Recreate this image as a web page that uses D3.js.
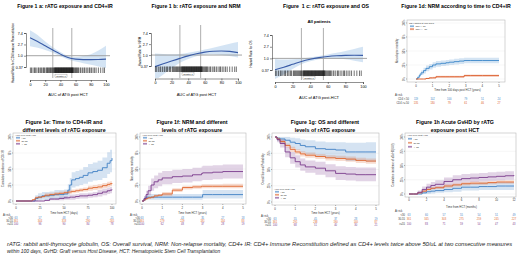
<!DOCTYPE html>
<html><head><meta charset="utf-8">
<script src="https://cdn.jsdelivr.net/npm/d3@7"></script>
<style>body{margin:0;background:#fff}svg{display:block}</style>
</head><body>
<svg id="c" width="520" height="262"></svg>
<script>
// ================= DATA =================
const titlesTop = ["Figure 1 a: rATG exposure and CD4+IR","Figure 1 b: rATG exposure and NRM","Figure  1 c: rATG exposure and OS","Figure 1d: NRM according to time to CD4+IR"];
const titlesBottom = [["Figure 1e: Time to CD4+IR and","different levels of rATG exposure"],["Figure 1f: NRM and different","levels of rATG exposure"],["Figure 1g: OS and different","levels of rATG exposure"],["Figure 1h Acute GvHD by rATG","exposure post HCT"]];

// Panels a-c : spline hazard ratios vs AUC of ATG post HCT
const aucGrid = [0,10,20,30,40,50,60,70,80,90,100];
const aucTicks = [0,20,40,60,80,100];
const hrTicks = [0.37,1.0,2.7,7.4];
const quartileCuts = [30,55];
const hrCD4   = [4.9,3.5,2.4,1.65,1.15,0.85,0.74,0.71,0.71,0.72,0.74];
const hrCD4Lo = [2.3,2.0,1.65,1.3,0.95,0.72,0.6,0.52,0.45,0.39,0.34];
const hrCD4Hi = [9.5,6.2,3.5,2.1,1.4,1.0,0.9,0.98,1.15,1.6,2.4];
const hrNRM   = [0.35,0.45,0.58,0.74,0.93,1.12,1.3,1.42,1.45,1.4,1.25];
const hrNRMLo = [0.1,0.17,0.3,0.5,0.7,0.9,1.02,1.05,1.0,0.92,0.8];
const hrNRMHi = [1.15,1.1,1.08,1.1,1.23,1.4,1.65,1.95,2.3,2.8,3.3];
const hrOS    = [0.38,0.47,0.6,0.77,0.93,1.07,1.18,1.25,1.29,1.3,1.29];
const hrOSLo  = [0.17,0.25,0.4,0.6,0.78,0.93,1.0,0.98,0.92,0.82,0.72];
const hrOSHi  = [0.95,0.9,0.92,0.98,1.1,1.23,1.4,1.62,1.9,2.25,2.7];
const rugAUC = [0.5,2,4,6,7,9,11,12,14,15,17,18,19,21,22,23,24,25,26,27,28,29,30,31,32,32.5,33,33.5,34,34.5,35,35.5,36,36.5,37,37.5,38,38.5,39,39.5,40,40.5,41,41.5,42,42.5,43,43.5,44,44.5,45,45.5,46,46.5,47,47.5,48,48.5,49,49.5,50,50.5,51,51.5,52,52.5,53,53.5,54,54.5,55,55.5,56,56.5,57,58,59,60,61,62,63,64,66,67,69,71,72,74,76,78,79,81,83,85,87,90,93,96,98];

// Panel d : NRM by CD4 status (years from day 100)
const dTimes = [0,0.1,0.2,0.3,0.45,0.6,0.8,1.0,1.2,1.5,1.8,2.0,2.3,2.6,2.9,3.3,4.0,5.0];
const dLow   = [0,3,7,11,15,19,22,25,27,28,29,30,31,32,33,33,33,33];
const dLowLo = [0,1,4,7,10,14,17,20,22,23,24,25,26,27,28,28,28,28];
const dLowHi = [0,5,10,15,20,24,27,30,32,33,34,35,36,37,38,38,38,38];
const dHigh  = [0,0,0,0,0,1,2,2,4,4,4,4,4,4,6,6,6,6];
const dHighLo= [0,0,0,0,0,0,0,1,2,2,2,2,2,2,4,4,4,4];
const dHighHi= [0,0,0,0,0,2,3,4,6,6,6,6,6,6,8,8,8,8];
const dRiskTimes = [0,1,2,3,4,5];
const dRiskLow  = [119,102,100,79,51,24];
const dRiskHigh = [135,130,79,61,46,27];

// Panel e : time to CD4 IR (days) by rATG level
const eTimes   = [0,17,20,23,27,30,35,40,45,50,54,56,58,62,66,70,75,80,85,90,95,98,100];
const eLt30    = [0,0,4,6,8,8,9,10,10,11,17,25,33,35,37,40,44,46,48,52,59,63,67];
const eLt30Lo  = [0,0,0,1,2,2,3,3,3,4,8,14,21,23,25,27,30,32,33,36,42,45,50];
const eLt30Hi  = [0,0,9,12,14,14,15,17,17,18,26,36,45,47,49,53,58,60,63,68,76,80,84];
const eMid     = [0,2,5,6,7,9,10,11,12,13,14,14,15,16,17,18,20,21,22,24,26,27,28];
const eMidLo   = [0,1,3,4,5,6,7,8,9,10,11,11,12,13,14,15,16,17,18,20,22,23,24];
const eMidHi   = [0,3,7,8,9,12,13,14,15,16,17,17,18,19,20,21,24,25,26,28,30,31,32];
const eGe55    = [0,0,0,0,0,1,3,3,4,5,5,6,6,7,8,8,9,10,12,14,16,17,18];
const eGe55Lo  = [0,0,0,0,0,0,1,1,1,2,2,2,2,3,4,4,5,6,7,9,11,12,13];
const eGe55Hi  = [0,0,0,0,0,2,5,5,7,8,8,10,10,11,12,12,13,14,17,19,21,22,23];
const eRiskTimes = [0,25,50,75,100];
const eRisk = [[63,57,48,37,25],[361,344,318,290,265],[100,96,90,84,78]];

// Panel f : NRM (years) by rATG level
const fTimes   = [0,0.1,0.2,0.3,0.45,0.6,0.8,1.0,1.5,2.0,2.5,2.95,3.0,3.5,4.0,5.0];
const fLt30    = [0,3,6,6,6,6,6,6,6,6,6,6,10,10,10,10];
const fLt30Lo  = [0,0,2,2,2,2,2,2,2,2,2,2,4,4,4,4];
const fLt30Hi  = [0,7,11,11,11,11,11,11,11,11,11,11,17,17,17,17];
const fMid     = [0,2,4,5,6,8,9,11,17,21,22,23,23,23,23,23];
const fMidLo   = [0,1,2,3,4,6,7,8,14,18,19,20,20,20,20,20];
const fMidHi   = [0,3,6,7,8,10,11,14,20,24,25,26,26,26,27,27];
const fGe55    = [0,4,10,16,25,30,33,36,38,39,41,43,44,45,46,46];
const fGe55Lo  = [0,1,5,9,16,20,23,26,28,29,31,32,33,34,35,35];
const fGe55Hi  = [0,8,16,24,35,40,44,47,49,50,52,54,55,56,57,57];
const fRiskTimes = [0,1,2,3,4,5];
const fRisk = [[63,52,43,35,27,18],[361,279,229,181,134,83],[100,62,48,37,28,19]];

// Panel g : OS (years) by rATG level
const gTimes   = [0,0.1,0.25,0.5,0.75,1.0,1.25,1.5,2.0,2.5,3.0,3.5,4.0,4.5,5.0];
const gLt30    = [100,98,97,95,92,90,87,85,82,81,80,77,77,77,77];
const gLt30Lo  = [100,94,91,87,83,80,76,73,70,68,67,63,63,62,62];
const gLt30Hi  = [100,100,100,100,99,98,96,95,93,92,92,91,91,92,93];
const gMid     = [100,97,93,87,81,77,74,72,70,68,67,66,64,63,63];
const gMidLo   = [100,95,90,84,77,73,70,68,66,64,63,62,60,59,58];
const gMidHi   = [100,99,96,90,85,81,78,76,74,72,71,70,68,67,67];
const gGe55    = [100,96,90,77,68,62,57,54,52,48,44,43,42,42,42];
const gGe55Lo  = [100,92,84,69,59,53,48,45,42,38,34,33,32,32,32];
const gGe55Hi  = [100,99,96,85,77,72,67,64,62,58,55,54,53,53,53];
const gRiskTimes = [0,1,2,3,4,5];
const gRisk = [[63,55,45,37,28,19],[361,291,238,190,140,87],[100,68,51,40,30,21]];

// Panel h : acute GvHD (months) by rATG level
const hTimes   = [0,0.5,1,1.5,2,2.5,3,4,5,6,7,8,9,10,11,12];
const hLt30    = [0,0,0,2,4,5,6,8,10,12,12,13,13,14,14,14];
const hLt30Lo  = [0,0,0,0,0,1,2,3,4,6,6,7,7,7,7,7];
const hLt30Hi  = [0,0,0,5,9,11,12,15,17,19,19,20,20,21,21,21];
const hMid     = [0,0,2,5,8,10,11,14,16,18,19,19,20,21,21,21];
const hMidLo   = [0,0,1,3,6,8,9,11,13,15,16,16,17,18,18,18];
const hMidHi   = [0,0,3,7,10,12,14,17,19,21,22,22,23,24,24,24];
const hGe55    = [0,0,3,8,12,15,17,22,25,27,28,29,30,31,32,33];
const hGe55Lo  = [0,0,1,4,7,9,11,15,18,20,21,22,23,24,25,25];
const hGe55Hi  = [0,0,6,13,18,21,24,29,33,35,36,37,38,39,40,41];
const hRiskTimes = [0,2,4,6,8,10,12];
const hRisk = [[63,60,57,55,54,51,49],[361,345,303,275,259,245,227],[100,83,71,59,54,47,43]];

const groupLabels = ["<30","30-55",">=55"];
const pctTicks = [0,25,50,75,100];
const footnote = ["rATG: rabbit anti-thymocyte globulin, OS: Overall survival, NRM: Non-relapse mortality, CD4+ IR: CD4+ Immune Reconstitution defined as CD4+ levels twice above 50/uL at two consecutive measures","within 100 days, GvHD: Graft versus Host Disease, HCT: Hematopoietic Stem Cell Transplantation"];

// ================= DRAW =================
const FONT = '"Liberation Sans", Arial, Helvetica, sans-serif';
const COLS = ["#3f80c4","#e0652c","#7a3b8c"];
const svg = d3.select("#c").attr("font-family", FONT);
svg.append("rect").attr("width",520).attr("height",262).attr("fill","#fff");

function txt(g,x,y,s,size,o={}){
  return g.append("text").attr("x",x).attr("y",y).text(s)
    .attr("font-size",size).attr("fill",o.fill||"#000")
    .attr("font-weight",o.bold?"bold":null).attr("font-style",o.italic?"italic":null)
    .attr("text-anchor",o.anchor||"start").style("white-space","pre")
    .attr("transform",o.rot?`rotate(${o.rot},${x},${y})`:null);
}

// titles
[65,196,326,456].forEach((cx,i)=>txt(svg,cx,8,titlesTop[i],5.2,{bold:true,anchor:"middle"}));
[64,192,325,455].forEach((cx,i)=>{
  txt(svg,cx,123.5,titlesBottom[i][0],5.3,{bold:true,anchor:"middle"});
  txt(svg,cx,131.5,titlesBottom[i][1],5.3,{bold:true,anchor:"middle"});
});

let clipN=0;
function clip(x0,y0,x1,y1){
  const id="cl"+(clipN++);
  svg.append("clipPath").attr("id",id).append("rect").attr("x",x0).attr("y",y0).attr("width",x1-x0).attr("height",y1-y0);
  return `url(#${id})`;
}
function styleAxis(g,fs){
  g.attr("font-family",FONT).attr("font-size",fs);
  g.selectAll("line").attr("stroke","#222").attr("stroke-width",0.5);
  g.selectAll("path").attr("stroke","#222").attr("stroke-width",0.5);
}

function hrPanel(p){
  const g=svg.append("g");
  const x=d3.scaleLinear().domain([0,100]).range([p.x0,p.x100]);
  const y=d3.scaleLog().domain([0.37,7.4]).range([p.y037,p.y74]);
  const cp=clip(p.box[0],p.box[1],p.box[2],p.box[3]);
  const pts=aucGrid.map((a,i)=>({a,e:p.est[i],l:p.lo[i],h:p.hi[i]}));
  g.append("path").attr("clip-path",cp).attr("fill","#cddff2").attr("fill-opacity",0.85)
    .attr("d",d3.area().x(d=>x(d.a)).y0(d=>y(d.l)).y1(d=>y(d.h)).curve(d3.curveMonotoneX)(pts));
  g.append("line").attr("x1",p.box[0]).attr("x2",p.box[2]).attr("y1",y(1)).attr("y2",y(1)).attr("stroke","#9a9a9a").attr("stroke-width",0.9);
  quartileCuts.forEach(q=>g.append("line").attr("x1",x(q)).attr("x2",x(q)).attr("y1",p.box[1]).attr("y2",p.box[3]).attr("stroke","#a5a5a5").attr("stroke-width",0.9));
  g.append("path").attr("clip-path",cp).attr("fill","none").attr("stroke","#3a5ca8").attr("stroke-width",1.1)
    .attr("d",d3.line().x(d=>x(d.a)).y(d=>y(d.e)).curve(d3.curveMonotoneX)(pts));
  g.selectAll(".rug").data(rugAUC).join("line").attr("x1",d=>x(d)).attr("x2",d=>x(d))
    .attr("y1",p.rug[0]).attr("y2",p.rug[1]).attr("stroke","#000").attr("stroke-width",0.55);
  // quartile label
  g.append("rect").attr("x",p.q[0]).attr("y",p.q[1]-2.4).attr("width",12).attr("height",3.2).attr("fill","#fff").attr("stroke","#666").attr("stroke-width",0.3);
  txt(g,p.q[0]+6,p.q[1],"Quartile 1",2.2,{anchor:"middle"});
  const ax=g.append("g").attr("transform",`translate(0,${p.axY})`)
    .call(d3.axisBottom(x).tickValues(aucTicks).tickSizeOuter(0).tickSize(2).tickPadding(1.2));
  styleAxis(ax,3.8);
  const ay=g.append("g").attr("transform",`translate(${p.axX},0)`)
    .call(d3.axisLeft(y).tickValues(hrTicks).tickFormat(d=>d===1?"1.0":String(d)).tickSizeOuter(0).tickSize(2).tickPadding(1.2));
  styleAxis(ay,3.6);
  txt(g,(p.x0+p.x100)/2,p.xt,p.xTitle,4,{anchor:"middle"});
  txt(g,p.yTx,(p.box[1]+p.box[3])/2,p.yTitle,3,{anchor:"middle",rot:-90});
  if(p.sub) txt(g,(p.x0+p.x100)/2,23,p.sub,4.3,{bold:true,anchor:"middle"});
}

hrPanel({x0:30,x100:106,y037:67,y74:33,box:[26,28,110,78],est:hrCD4,lo:hrCD4Lo,hi:hrCD4Hi,rug:[67.5,73],q:[55,76.5],axY:80,axX:26,xt:96,xTitle:"AUC of ATG post HCT",yTx:14,yTitle:"Hazard Ratio for CD4 Immune Reconstitution"});
hrPanel({x0:155,x100:238,y037:66,y74:33,box:[151,25,242,78],est:hrNRM,lo:hrNRMLo,hi:hrNRMHi,rug:[66.5,72],q:[182,74.5],axY:78.5,axX:151,xt:96,xTitle:"AUC of ATG post HCT",yTx:141,yTitle:"Hazard Ratio for NRM"});
hrPanel({x0:275,x100:363,y037:70,y74:35,box:[272,28,367,80],est:hrOS,lo:hrOSLo,hi:hrOSHi,rug:[70.5,76],q:[303,78.5],axY:82,axX:272,xt:99,xTitle:"AUC of ATG post-HCT",yTx:252,yTitle:"Hazard Ratio for OS",sub:"All patients"});

function kmPanel(p){
  const g=svg.append("g");
  const [l,t,r,b]=p.box;
  const x=d3.scaleLinear().domain(p.xDom).range(p.xRange);
  const y=d3.scaleLinear().domain([0,100]).range(p.yRange);
  pctTicks.forEach(v=>g.append("line").attr("x1",l).attr("x2",r).attr("y1",y(v)).attr("y2",y(v)).attr("stroke","#ececec").attr("stroke-width",0.5));
  g.append("rect").attr("x",l).attr("y",t).attr("width",r-l).attr("height",b-t).attr("fill","none").attr("stroke","#b8b8b8").attr("stroke-width",0.6);
  p.groups.forEach((gr,k)=>{
    const pts=p.times.map((tt,i)=>({t:tt,e:gr.est[i],l:gr.lo[i],h:gr.hi[i]}));
    g.append("path").attr("fill",gr.col).attr("fill-opacity",0.22)
      .attr("d",d3.area().x(d=>x(d.t)).y0(d=>y(d.l)).y1(d=>y(d.h)).curve(d3.curveStepAfter)(pts));
  });
  p.groups.forEach((gr,k)=>{
    const pts=p.times.map((tt,i)=>({t:tt,e:gr.est[i]}));
    g.append("path").attr("fill","none").attr("stroke",gr.col).attr("stroke-width",0.9)
      .attr("d",d3.line().x(d=>x(d.t)).y(d=>y(d.e)).curve(d3.curveStepAfter)(pts));
  });
  // y ticks
  pctTicks.forEach(v=>{
    g.append("line").attr("x1",l-1).attr("x2",l).attr("y1",y(v)).attr("y2",y(v)).attr("stroke","#444").attr("stroke-width",0.4);
    txt(g,l-2.2,y(v),v+"%",2.6,{anchor:"middle",rot:-90,fill:"#333"});
  });
  p.xTicks.forEach(v=>{
    g.append("line").attr("x1",x(v)).attr("x2",x(v)).attr("y1",b).attr("y2",b+1).attr("stroke","#444").attr("stroke-width",0.4);
    txt(g,x(v),p.xtl,String(v),2.8,{anchor:"middle",fill:"#333"});
  });
  txt(g,(p.xRange[0]+p.xRange[1])/2,p.xtt,p.xTitle,2.8,{anchor:"middle",fill:"#333"});
  txt(g,p.yTx,(t+b)/2,p.yTitle,2.6,{anchor:"middle",rot:-90,fill:"#333"});
  // legend
  const L=p.leg;
  txt(g,L.x,L.y,L.title,2.4,{fill:"#333"});
  p.groups.forEach((gr,k)=>{
    const yy=L.y+L.dy*(k+1);
    g.append("rect").attr("x",L.x+1).attr("y",yy-1.8).attr("width",4).attr("height",2.2).attr("fill",gr.col).attr("fill-opacity",0.25);
    g.append("line").attr("x1",L.x+1).attr("x2",L.x+5).attr("y1",yy-0.7).attr("y2",yy-0.7).attr("stroke",gr.col).attr("stroke-width",0.7);
    txt(g,L.x+6.5,yy,gr.name,2.4,{fill:"#333"});
  });
  // risk table
  const R=p.risk;
  txt(g,R.x,R.y0,"At risk",2.6,{fill:"#333"});
  p.groups.forEach((gr,k)=>{
    const yy=R.y0+R.dy*(k+1);
    txt(g,R.lx,yy,gr.name,2.6,{anchor:"end",fill:"#333"});
    R.counts[k].forEach((n,i)=>txt(g,x(R.times[i]),yy,String(n),2.6,{anchor:"middle",fill:gr.col}));
  });
}

function grp(names,ests,los,his,cols){return names.map((n,i)=>({name:n,est:ests[i],lo:los[i],hi:his[i],col:cols[i]}));}

// panel d
kmPanel({box:[407,20,505,82],xDom:[0,5],xRange:[416,499],yRange:[79,23],times:dTimes,
  groups:grp(["CD4 < 50","CD4 >= 50"],[dLow,dHigh],[dLowLo,dHighLo],[dLowHi,dHighHi],["#3a86c8","#d9541e"]),
  xTicks:[0,1,2,3,4,5],xtl:86.5,xtt:91,xTitle:"Time from 100 days post HCT (years)",yTx:398,yTitle:"Non-relapse mortality",
  leg:{x:409,y:24,dy:2.9,title:"CD4 status at 100 days"},
  risk:{x:395,y0:96,dy:4,lx:409,times:dRiskTimes,counts:[dRiskLow,dRiskHigh]}});
// panel e
kmPanel({box:[13,133,116,204],xDom:[0,100],xRange:[16,112],yRange:[201,137],times:eTimes,
  groups:grp(groupLabels,[eLt30,eMid,eGe55],[eLt30Lo,eMidLo,eGe55Lo],[eLt30Hi,eMidHi,eGe55Hi],COLS),
  xTicks:eRiskTimes,xtl:209,xtt:213.5,xTitle:"Time from HCT (days)",yTx:4,yTitle:"Cumulative incidence of CD4 IR",
  leg:{x:15,y:135.5,dy:3,title:"ATG level post HCT"},
  risk:{x:3,y0:216,dy:3,lx:13,times:eRiskTimes,counts:eRisk}});
// panel f
kmPanel({box:[140,133,246,204],xDom:[0,5],xRange:[142,243],yRange:[201,137],times:fTimes,
  groups:grp(groupLabels,[fLt30,fMid,fGe55],[fLt30Lo,fMidLo,fGe55Lo],[fLt30Hi,fMidHi,fGe55Hi],COLS),
  xTicks:fRiskTimes,xtl:209,xtt:213.5,xTitle:"Time from HCT (years)",yTx:133,yTitle:"Non-relapse mortality",
  leg:{x:142,y:135.5,dy:3,title:"ATG level post HCT"},
  risk:{x:130,y0:216,dy:3,lx:140,times:fRiskTimes,counts:fRisk}});
// panel g
kmPanel({box:[272,133,379,205],xDom:[0,5],xRange:[275,376],yRange:[202,137],times:gTimes,
  groups:grp(groupLabels,[gLt30,gMid,gGe55],[gLt30Lo,gMidLo,gGe55Lo],[gLt30Hi,gMidHi,gGe55Hi],COLS),
  xTicks:gRiskTimes,xtl:209.5,xtt:214,xTitle:"Time from HCT (years)",yTx:264,yTitle:"Overall Survival Probability",
  leg:{x:274,y:189.5,dy:3,title:"ATG level post HCT"},
  risk:{x:261,y0:216.5,dy:3,lx:271,times:gRiskTimes,counts:gRisk}});
// panel h
kmPanel({box:[405,133,516,197],xDom:[0,12],xRange:[409,514],yRange:[194,137],times:hTimes,
  groups:grp(groupLabels,[hLt30,hMid,hGe55],[hLt30Lo,hMidLo,hGe55Lo],[hLt30Hi,hMidHi,hGe55Hi],COLS),
  xTicks:hRiskTimes,xtl:201,xtt:208,xTitle:"Time from HCT (months)",yTx:394,yTitle:"Cumulative incidence of aGvHD(II-IV)",
  leg:{x:407,y:135.5,dy:4,title:"ATG level post HCT"},
  risk:{x:395,y0:212,dy:4.2,lx:405,times:hRiskTimes,counts:hRisk}});

// footnote
txt(svg,7,245.8,footnote[0],4.9,{italic:true,fill:"#222"}).attr("textLength",505).attr("lengthAdjust","spacingAndGlyphs");
txt(svg,7,252.8,footnote[1],4.9,{italic:true,fill:"#222"});
</script>
</body></html>
